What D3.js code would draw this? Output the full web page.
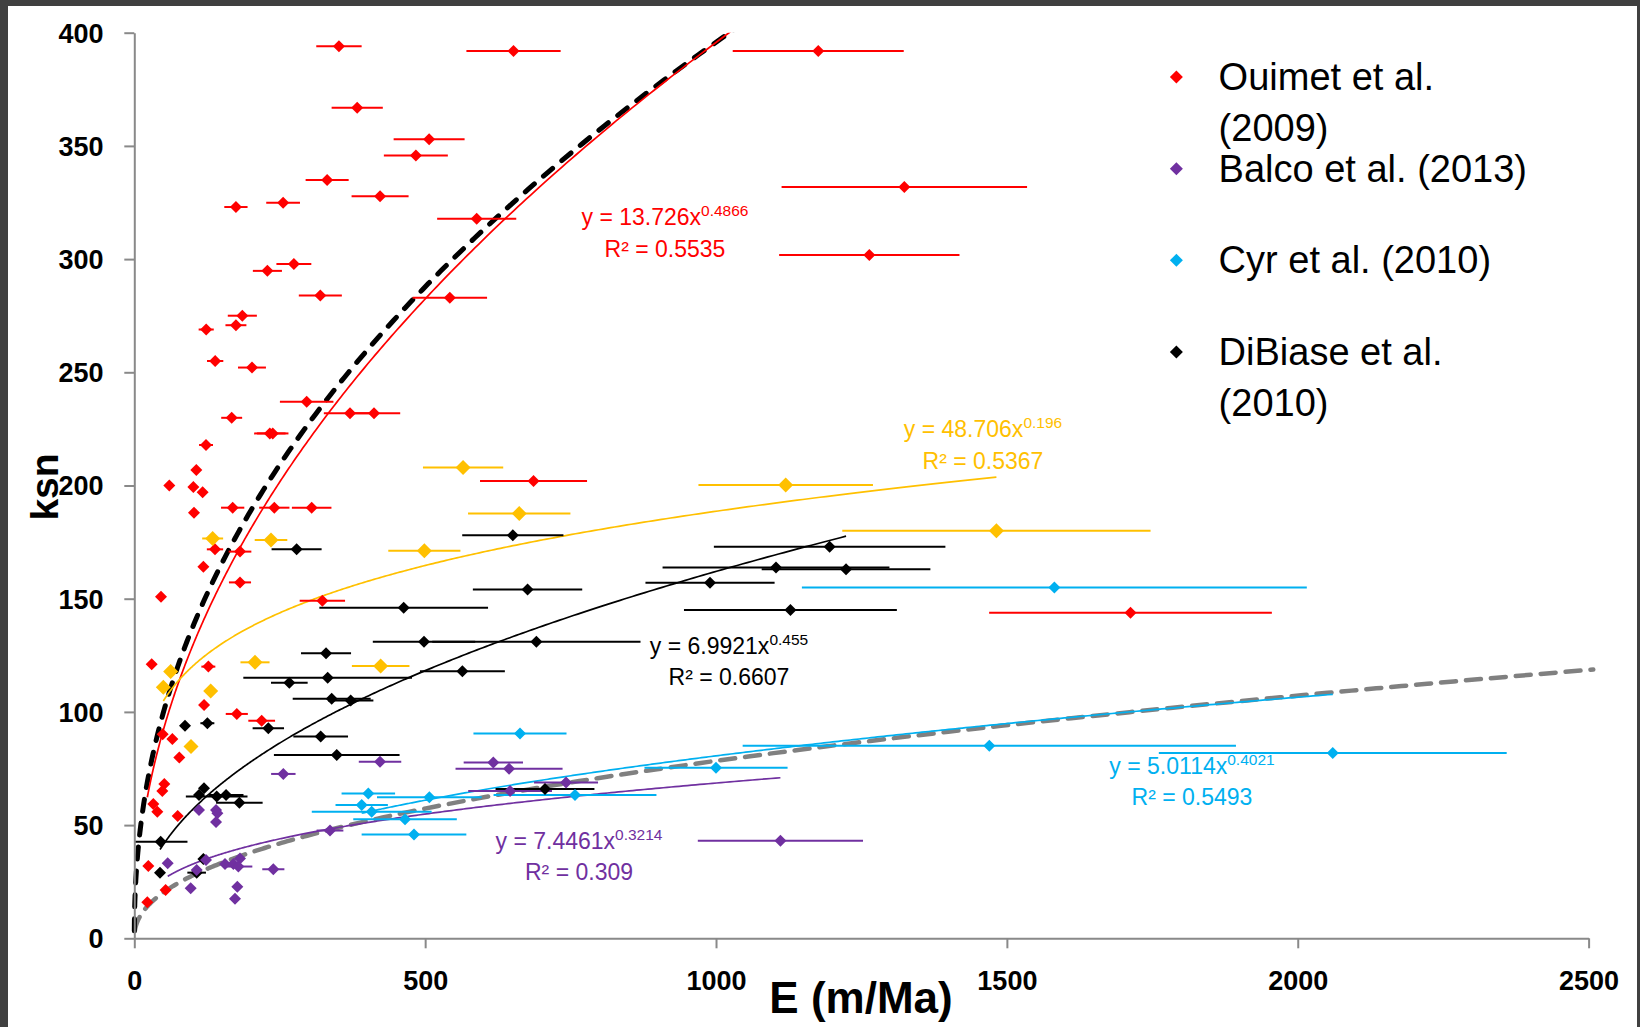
<!DOCTYPE html>
<html><head><meta charset="utf-8">
<script src="https://cdn.jsdelivr.net/npm/d3@7"></script>
<style>
html,body{margin:0;padding:0;background:#404040;}
svg{display:block;font-family:"Liberation Sans",Arial,sans-serif;}
</style></head><body>
<svg id="chart" width="1640" height="1027"></svg>
<script>
// ---------------- data ----------------
const xTicks = [0, 500, 1000, 1500, 2000, 2500];
const yTicks = [0, 50, 100, 150, 200, 250, 300, 350, 400];

const ouimetE   = [351.8, 651.9, 1175.7, 383.2, 506.8, 484, 331.5, 1323.7, 422.5, 255.8, 174.7, 588.6, 1263.5, 274.3, 228.8, 319.8, 542.4, 185.7, 174.7, 123.6, 139, 202.3, 296.3, 370.8, 412.1, 167.4, 233, 238, 123.3, 106.6, 60.2, 101.5, 117.5, 102.6, 169.1, 240.7, 304.9, 686.3, 138.7, 181.7, 118.7, 181.7, 45.9, 323.3, 1712.5, 29.9, 127.3, 119.9, 176.2, 219, 48.8, 65.4, 77.4, 51.6, 48.2, 32.7, 39.6, 74.6, 24.1, 53.9, 22.4];
const ouimetKsn = [394.0, 391.9, 391.9, 366.9, 352.9, 345.8, 334.9, 331.8, 327.8, 324.9, 323.0, 317.8, 301.8, 297.8, 294.8, 283.9, 282.9, 275.0, 270.8, 268.9, 255.0, 252.1, 237.0, 231.9, 231.9, 229.9, 223, 223, 217.9, 206.9, 200, 199.3, 197.0, 188.0, 190.2, 190.2, 190.2, 202.0, 171.8, 170.8, 164.1, 157.2, 150.9, 149.1, 143.8, 121.0, 120.0, 103.1, 99.1, 96.1, 90.1, 88.0, 79.9, 68.2, 65.1, 59.3, 55.9, 54.0, 31.9, 21.3, 15.9];
const ouimetErr = [39, 81, 147, 44, 61, 55, 37, 211, 49, 29, 20, 68, 155, 30, 25, 37, 64, 25, 18, 13, 14, 24, 46, 45, 45, 18, 27, 27, 12, 0, 0, 0, 0, 0, 20, 26, 34, 92, 14, 19.5, 0, 19, 0, 39, 243, 0, 12, 0, 19, 23, 0, 0, 0, 0, 0, 0, 0, 0, 0, 0, 0];

const yellowE   = [565.2, 661.7, 134.7, 235, 498.6, 1119.8, 1482, 207.5, 423.5, 62.5, 49.9, 131.3, 97.5];
const yellowKsn = [207.9, 187.6, 176.6, 175.9, 171.2, 200.2, 180.0, 121.9, 120.3, 117.8, 110.9, 109.2, 84.7];
const yellowErr = [69, 88, 18, 28, 62, 150, 265, 25, 49.5, 0, 0, 0, 0];

const dibiaseE   = [279, 650.7, 676, 463.1, 498, 691.2, 329.6, 332.4, 266.5, 564, 339.3, 372, 87.2, 125.6, 230.4, 320.4, 348, 119.8, 111.2, 141.6, 157.7, 180.6, 45.4, 118.7, 44.2, 107.2, 706, 1195.3, 1103.1, 1223.5, 989.7, 1127.9];
const dibiaseKsn = [171.8, 178.0, 154.1, 146.0, 131.0, 131.0, 125.9, 115.1, 112.9, 118.0, 105.8, 105.0, 93.9, 95.0, 92.8, 89.1, 81.0, 66.3, 63.3, 62.6, 63.3, 59.9, 42.7, 35.0, 29.0, 29.0, 66.0, 173.0, 163.8, 163.0, 157.1, 145.0];
const dibiaseErr = [43, 87, 94, 145, 88, 179, 43, 145, 31.5, 73, 67, 39, 0, 12, 27, 47, 108, 0, 0, 53, 30, 40, 46, 0, 0, 16, 85, 199, 195, 145, 111, 183];

const balcoE   = [422.4, 617.2, 644.2, 256.2, 646, 742.2, 111.2, 140.5, 142.8, 140.5, 336.4, 57.4, 107.2, 123.3, 155.9, 170.3, 181.7, 178.9, 239, 96.9, 177.1, 173.1, 1110.7];
const balcoKsn = [78.0, 77.6, 74.9, 72.6, 65.1, 68.8, 56.7, 56.7, 55.2, 51.4, 47.6, 33.1, 30.2, 34.6, 32.8, 32.8, 35.3, 31.7, 30.5, 22.1, 22.8, 17.5, 43.1];
const balcoErr = [36.5, 51, 92, 21, 72, 55, 0, 0, 0, 0, 23, 0, 0, 0, 0, 0, 0, 24, 19, 0, 0, 0, 142];

const cyrE   = [663, 402.3, 507.2, 757.6, 390.9, 408.1, 465.4, 480.8, 1000, 1469.8, 1581.6, 2060.2];
const cyrKsn = [90.5, 64.0, 62.3, 63.3, 58.9, 55.9, 52.6, 45.9, 75.3, 85.1, 154.9, 81.9];
const cyrErr = [80, 46, 90, 140, 45, 103, 89, 90, 123, 424, 434, 299];

// power-law trendlines y = a x^b (as printed on the chart)
const trendCoef = [13.726, 48.706, 6.9921, 7.4461, 5.0114];
const trendExp  = [0.4866, 0.196, 0.455, 0.3214, 0.4021];
const trendR2   = [0.5535, 0.5367, 0.6607, 0.309, 0.5493];

// reference (thick dashed) curves y = a x^b
const refCoef = [16.5, 3.46];
const refExp  = [0.46, 0.4517];

const legendNames = [["Ouimet et al.", "(2009)"], ["Balco et al. (2013)"], ["Cyr et al. (2010)"], ["DiBiase et al.", "(2010)"]];

// ---------------- chart ----------------
const svg = d3.select("#chart");
svg.append("rect").attr("x", 8).attr("y", 6).attr("width", 1629).attr("height", 1021).attr("fill", "#ffffff");

const x = d3.scaleLinear().domain([0, 2500]).range([134.3, 1588.6]);
const y = d3.scaleLinear().domain([0, 400]).range([938.3, 32.7]);

const series = [
  {name: "ouimet", E: ouimetE, K: ouimetKsn, err: ouimetErr, color: "#FF0000", r: 6, t: 0,
   lab: {cx: 665, b1: 225, b2: 257}},
  {name: "yellow", E: yellowE, K: yellowKsn, err: yellowErr, color: "#FFC000", r: 7.5, t: 1,
   lab: {cx: 983, b1: 437, b2: 468.5}},
  {name: "dibiase", E: dibiaseE, K: dibiaseKsn, err: dibiaseErr, color: "#000000", r: 6, t: 2,
   lab: {cx: 729, b1: 653.5, b2: 685}},
  {name: "balco", E: balcoE, K: balcoKsn, err: balcoErr, color: "#7030A0", r: 6, t: 3,
   lab: {cx: 579, b1: 849, b2: 880}},
  {name: "cyr", E: cyrE, K: cyrKsn, err: cyrErr, color: "#00B0F0", r: 6, t: 4,
   lab: {cx: 1192, b1: 774, b2: 805}}
];

// clip for curves
svg.append("clipPath").attr("id", "plotclip").append("rect")
  .attr("x", 120).attr("y", 32.7).attr("width", 1500).attr("height", 906);

const curveG = svg.append("g").attr("clip-path", "url(#plotclip)");
const line = d3.line().x(d => x(d[0])).y(d => y(d[1]));

function powerPts(a, b, x0, x1, n) {
  const pts = [];
  const l0 = Math.log(x0), l1 = Math.log(x1);
  for (let i = 0; i <= n; i++) {
    const xv = Math.exp(l0 + (l1 - l0) * i / n);
    pts.push([xv, a * Math.pow(xv, b)]);
  }
  return pts;
}

// thick dashed reference curves
curveG.append("path").attr("d", line(powerPts(refCoef[1], refExp[1], 0.8, 2508, 400)))
  .attr("fill", "none").attr("stroke", "#808080").attr("stroke-width", 4.5)
  .attr("stroke-dasharray", "15,10").attr("stroke-linecap", "round");
curveG.append("path").attr("d", line(powerPts(refCoef[0], refExp[0], 0.03, 1100, 500)))
  .attr("fill", "none").attr("stroke", "#000000").attr("stroke-width", 5)
  .attr("stroke-dasharray", "12,12").attr("stroke-linecap", "round");

// trendlines
series.forEach(s => {
  const a = trendCoef[s.t], b = trendExp[s.t];
  const pts = powerPts(a, b, d3.min(s.E), d3.max(s.E), 400);
  curveG.append("path").attr("d", line(pts)).attr("fill", "none")
    .attr("stroke", s.color).attr("stroke-width", 1.7);
});

// error bars
series.forEach(s => {
  const g = svg.append("g");
  s.E.forEach((e, i) => {
    if (s.err[i] > 0) {
      g.append("line").attr("x1", x(Math.max(0, e - s.err[i]))).attr("x2", x(e + s.err[i]))
        .attr("y1", y(s.K[i])).attr("y2", y(s.K[i]))
        .attr("stroke", s.color).attr("stroke-width", 2);
    }
  });
});

// markers
function diamond(r) { return `M0,${-r}L${r},0L0,${r}L${-r},0Z`; }
series.forEach(s => {
  svg.append("g").selectAll("path").data(s.E.map((e, i) => [e, s.K[i]])).join("path")
    .attr("d", diamond(s.r))
    .attr("transform", d => `translate(${x(d[0])},${y(d[1])})`)
    .attr("fill", s.color);
});

// axes
const axColor = "#898989";
const yAxis = svg.append("g").attr("transform", `translate(${x(0)},0)`)
  .call(d3.axisLeft(y).tickValues(yTicks).tickSize(10).tickSizeOuter(0).tickPadding(20.7).tickFormat(d3.format("d")));
const xAxis = svg.append("g").attr("transform", `translate(0,${y(0)})`)
  .call(d3.axisBottom(x).tickValues(xTicks).tickSize(10).tickSizeOuter(0).tickPadding(23).tickFormat(d3.format("d")));
[yAxis, xAxis].forEach(ax => {
  ax.select(".domain").attr("stroke", axColor).attr("stroke-width", 2);
  ax.selectAll(".tick line").attr("stroke", axColor).attr("stroke-width", 2);
  ax.selectAll(".tick text").attr("fill", "#000").style("font-size", "27px")
    .style("font-weight", "bold").style("font-family", '"Liberation Sans", Arial, sans-serif');
});
yAxis.selectAll(".tick text").attr("dy", "0.35em");

// axis titles
svg.append("text").attr("x", 861).attr("y", 1013).attr("text-anchor", "middle")
  .style("font-size", "44px").style("font-weight", "bold").attr("fill", "#000").text("E (m/Ma)");
svg.append("text").attr("transform", "translate(58,487) rotate(-90)").attr("text-anchor", "middle")
  .style("font-size", "39px").style("font-weight", "bold").attr("fill", "#000").text("ksn");

// trendline equations
series.forEach(s => {
  const t = svg.append("text").attr("x", s.lab.cx).attr("y", s.lab.b1).attr("text-anchor", "middle")
    .attr("fill", s.color).style("font-size", "23px");
  t.append("tspan").text(`y = ${trendCoef[s.t]}x`);
  t.append("tspan").attr("dy", -9).style("font-size", "15.5px").text(String(trendExp[s.t]));
  svg.append("text").attr("x", s.lab.cx).attr("y", s.lab.b2).attr("text-anchor", "middle")
    .attr("fill", s.color).style("font-size", "23px").text(`R\u00B2 = ${trendR2[s.t]}`);
});

// legend
const legColors = ["#FF0000", "#7030A0", "#00B0F0", "#000000"];
const legY = [77, 168.7, 260.3, 352];
legendNames.forEach((lines, i) => {
  svg.append("path").attr("d", diamond(6.5)).attr("transform", `translate(1176.4,${legY[i]})`)
    .attr("fill", legColors[i]);
  lines.forEach((ln, j) => {
    svg.append("text").attr("x", 1218.6).attr("y", legY[i] + 12.8 + j * 51)
      .style("font-size", "38px").attr("fill", "#000").text(ln);
  });
});
</script>
</body></html>
